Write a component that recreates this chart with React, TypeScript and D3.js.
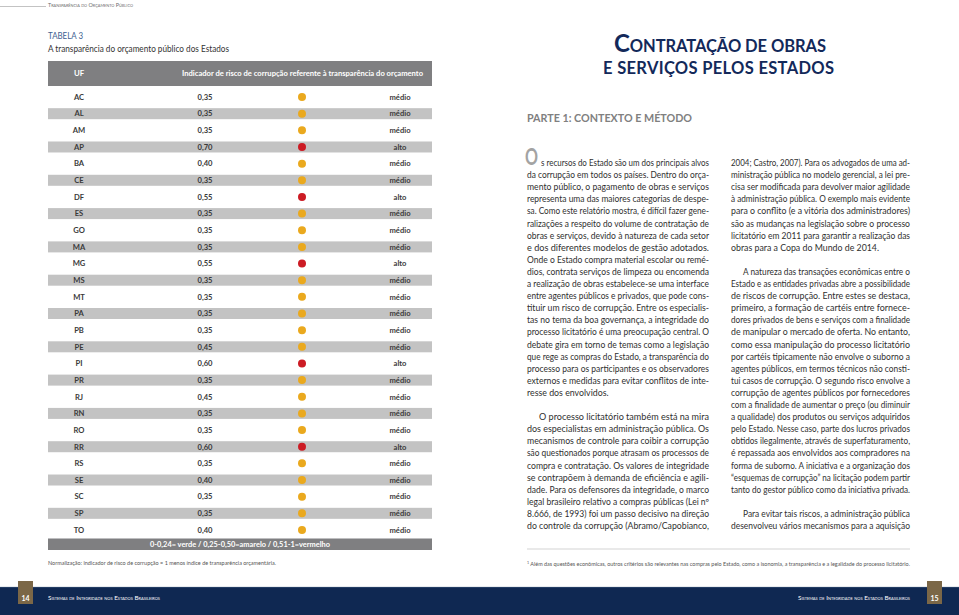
import React from 'react';
import * as d3 from 'd3';

// ---------- Table data ----------
const ufs = ['AC','AL','AM','AP','BA','CE','DF','ES','GO','MA','MG','MS','MT','PA','PB','PE','PI','PR','RJ','RN','RO','RR','RS','SE','SC','SP','TO'];
const values = [0.35,0.35,0.35,0.70,0.40,0.35,0.55,0.35,0.35,0.35,0.55,0.35,0.35,0.35,0.35,0.45,0.60,0.35,0.45,0.35,0.35,0.60,0.35,0.40,0.35,0.35,0.40];
const levels = ['médio','médio','médio','alto','médio','médio','alto','médio','médio','médio','alto','médio','médio','médio','médio','médio','alto','médio','médio','médio','médio','alto','médio','médio','médio','médio','médio'];
const levelNames = ['médio','alto'];
const levelColors = ['#eaa91e','#cc1b24'];
const headerLabels = ['UF','Indicador de risco de corrupção referente à transparência do orçamento'];
const legendText = '0-0,24= verde / 0,25-0,50=amarelo / 0,51-1=vermelho';

// ---------- Page text ----------
const leftCol = [
  's recursos do Estado são um dos principais alvos',
  'da corrupção em todos os países. Dentro do orça-',
  'mento público, o pagamento de obras e serviços',
  'representa uma das maiores categorias de despe-',
  'sa. Como este relatório mostra, é difícil fazer gene-',
  'ralizações a respeito do volume de contratação de',
  'obras e serviços, devido à natureza de cada setor',
  'e dos diferentes modelos de gestão adotados.',
  'Onde o Estado compra material escolar ou remé-',
  'dios, contrata serviços de limpeza ou encomenda',
  'a realização de obras estabelece-se uma interface',
  'entre agentes públicos e privados, que pode cons-',
  'tituir um risco de corrupção. Entre os especialis-',
  'tas no tema da boa governança, a integridade do',
  'processo licitatório é uma preocupação central. O',
  'debate gira em torno de temas como a legislação',
  'que rege as compras do Estado, a transparência do',
  'processo para os participantes e os observadores',
  'externos e medidas para evitar conflitos de inte-',
  'resse dos envolvidos.¶',
  '',
  '»O processo licitatório também está na mira',
  'dos especialistas em administração pública. Os',
  'mecanismos de controle para coibir a corrupção',
  'são questionados porque atrasam os processos de',
  'compra e contratação. Os valores de integridade',
  'se contrapõem à demanda de eficiência e agili-',
  'dade. Para os defensores da integridade, o marco',
  'legal brasileiro relativo a compras públicas (Lei nº',
  '8.666, de 1993) foi um passo decisivo na direção',
  'do controle da corrupção (Abramo/Capobianco,',
];
const rightCol = [
  '2004; Castro, 2007). Para os advogados de uma ad-',
  'ministração pública no modelo gerencial, a lei pre-',
  'cisa ser modificada para devolver maior agilidade',
  'à administração pública. O exemplo mais evidente',
  'para o conflito (e a vitória dos administradores)',
  'são as mudanças na legislação sobre o processo',
  'licitatório em 2011 para garantir a realização das',
  'obras para a Copa do Mundo de 2014.¶',
  '',
  '»A natureza das transações econômicas entre o',
  'Estado e as entidades privadas abre a possibilidade',
  'de riscos de corrupção. Entre estes se destaca,',
  'primeiro, a formação de cartéis entre fornece-',
  'dores privados de bens e serviços com a finalidade',
  'de manipular o mercado de oferta. No entanto,',
  'como essa manipulação do processo licitatório',
  'por cartéis tipicamente não envolve o suborno a',
  'agentes públicos, em termos técnicos não consti-',
  'tui casos de corrupção. O segundo risco envolve a',
  'corrupção de agentes públicos por fornecedores',
  'com a finalidade de aumentar o preço (ou diminuir',
  'a qualidade) dos produtos ou serviços adquiridos',
  'pelo Estado. Nesse caso, parte dos lucros privados',
  'obtidos ilegalmente, através de superfaturamento,',
  'é repassada aos envolvidos aos compradores na',
  'forma de suborno. A iniciativa e a organização dos',
  '“esquemas de corrupção” na licitação podem partir',
  'tanto do gestor público como da iniciativa privada.',
  '',
  '»Para evitar tais riscos, a administração pública',
  'desenvolveu vários mecanismos para a aquisição',
];

const FONT = 'Lato, "Open Sans", sans-serif';
const NAVY = '#13295a';

function Column({ lines, x0, x1, y0, lh, firstIndent = 0 }: any) {
  return (
    <g>
      {lines.map((raw: string, i: number) => {
        if (!raw) return null;
        let t = raw;
        let indent = 0;
        let justify = true;
        if (t.startsWith('»')) { t = t.slice(1); indent = 12; }
        if (t.endsWith('¶')) { t = t.slice(0, -1); justify = false; }
        if (i === 0) indent = firstIndent;
        const x = x0 + indent;
        return (
          <text key={i} x={x} y={y0 + i * lh} fontSize={8.8} fill="#2f2f2f" fontFamily={FONT}
            {...(justify ? { textLength: x1 - x, lengthAdjust: 'spacingAndGlyphs' } : {})}>{t}</text>
        );
      })}
    </g>
  );
}

export default function App() {
  const W = 959, H = 615;
  const tableX0 = 48, tableX1 = 432;
  const y = d3.scaleBand<string>().domain(ufs).range([88.7, 538.3]);
  const color = d3.scaleOrdinal<string, string>().domain(levelNames).range(levelColors);
  const locale = d3.formatLocale({ decimal: ',', thousands: '.', grouping: [3], currency: ['R$', ''] });
  const fmt = locale.format('.2f');
  const colX = { uf: 79, val: 205, dot: 302, lvl: 400 };
  const stripeH = 11;

  return (
    <svg width={W} height={H} style={{ position: 'absolute', left: 0, top: 0, background: '#fff' }} fontFamily={FONT}>
      <rect width={W} height={H} fill="#fff" />

      {/* running head */}
      <line x1={0} x2={46} y1={6.5} y2={6.5} stroke="#9a9a9a" strokeWidth={0.6} />
      <text x={48} y={7} fontSize={5.6} fill="#6b6b6b" style={{ fontVariant: 'small-caps' }} textLength={85} lengthAdjust="spacingAndGlyphs">Transparência do Orçamento Público</text>

      {/* table title */}
      <text x={48} y={39} fontSize={10} fill="#3e5f91" textLength={35} lengthAdjust="spacingAndGlyphs">TABELA 3</text>
      <text x={48} y={52} fontSize={10} fill="#333" textLength={181} lengthAdjust="spacingAndGlyphs">A transparência do orçamento público dos Estados</text>

      {/* header bar */}
      <rect x={tableX0} y={61} width={tableX1 - tableX0} height={25} fill="#7f7f81" />
      <text x={colX.uf} y={76} fontSize={7.8} fontWeight={700} fill="#fff" textAnchor="middle">{headerLabels[0]}</text>
      <text x={182} y={76} fontSize={7.8} fontWeight={700} fill="#fff" textLength={241} lengthAdjust="spacingAndGlyphs">{headerLabels[1]}</text>

      {/* rows */}
      {ufs.map((uf, i) => {
        const cy = (y(uf) as number) + y.bandwidth() / 2;
        const ty = cy + 2.8;
        return (
          <g key={uf}>
            {i % 2 === 1 && <rect x={tableX0} y={cy - stripeH / 2} width={tableX1 - tableX0} height={stripeH} fill="#c3c3c3" />}
            <text x={colX.uf} y={ty} fontSize={7.6} fontWeight={700} fill="#3a3a3a" textAnchor="middle">{uf}</text>
            <text x={colX.val} y={ty} fontSize={7.6} fontWeight={700} fill="#3a3a3a" textAnchor="middle">{fmt(values[i])}</text>
            <circle cx={colX.dot} cy={cy} r={4} fill={color(levels[i])} />
            <text x={colX.lvl} y={ty} fontSize={7.6} fontWeight={700} fill="#3a3a3a" textAnchor="middle">{levels[i]}</text>
          </g>
        );
      })}

      {/* legend bar */}
      <rect x={tableX0} y={538.5} width={tableX1 - tableX0} height={11.5} fill="#7f7f81" />
      <text x={150} y={547.3} fontSize={7.8} fontWeight={700} fill="#fff" textLength={180} lengthAdjust="spacingAndGlyphs">{legendText}</text>
      <text x={48} y={565} fontSize={5.4} fill="#555" textLength={228} lengthAdjust="spacingAndGlyphs">Normalização: indicador de risco de corrupção = 1 menos índice de transparência orçamentária.</text>

      {/* right page title */}
      <text x={614} y={52} fill={NAVY} fontWeight={700} textLength={212} lengthAdjust="spacing">
        <tspan fontSize={24}>C</tspan><tspan fontSize={16.5}>ONTRATAÇÃO DE OBRAS</tspan>
      </text>
      <text x={603} y={74} fill={NAVY} fontWeight={700} fontSize={16.5} textLength={231} lengthAdjust="spacing">E SERVIÇOS PELOS ESTADOS</text>

      <text x={527} y={122} fontSize={11} fontWeight={700} fill="#808080" textLength={165} lengthAdjust="spacingAndGlyphs">PARTE 1: CONTEXTO E MÉTODO</text>

      {/* drop cap */}
      <text x={525} y={165} fontSize={22} fontWeight={700} fill="#a3a3a3" textLength={13} lengthAdjust="spacingAndGlyphs">O</text>

      <Column lines={leftCol} x0={527} x1={709} y0={166} lh={12.1} firstIndent={14} />
      <Column lines={rightCol} x0={731} x1={910} y0={166} lh={12.1} />

      {/* footnote */}
      <line x1={527} x2={910} y1={549} y2={549} stroke="#c8c8c8" strokeWidth={0.8} />
      <text x={527} y={566} fontSize={5.2} fill="#555" textLength={383} lengthAdjust="spacingAndGlyphs">
        <tspan fontSize={3.5} dy={-2}>1</tspan><tspan dy={2}> Além das questões econômicas, outros critérios são relevantes nas compras pelo Estado, como a isonomia, a transparência e a legalidade do processo licitatório.</tspan>
      </text>

      {/* footer band */}
      <rect x={0} y={587} width={W} height={28} fill="#0f2852" />
      <line x1={0} x2={W} y1={587.3} y2={587.3} stroke="#3b5478" strokeWidth={0.6} />
      <rect x={18} y={581} width={15} height={23} fill="#7b6747" />
      <text x={25.5} y={600.5} fontSize={7} fontWeight={700} fill="#fff" textAnchor="middle">14</text>
      <text x={48} y={600} fontSize={6.4} fill="#fff" style={{ fontVariant: 'small-caps' }} textLength={112} lengthAdjust="spacingAndGlyphs">Sistemas de Integridade nos Estados Brasileiros</text>
      <rect x={927} y={581} width={15} height={23} fill="#7b6747" />
      <text x={934.5} y={600.5} fontSize={7} fontWeight={700} fill="#fff" textAnchor="middle">15</text>
      <text x={798} y={600} fontSize={6.4} fill="#fff" style={{ fontVariant: 'small-caps' }} textLength={112} lengthAdjust="spacingAndGlyphs">Sistemas de Integridade nos Estados Brasileiros</text>
    </svg>
  );
}
